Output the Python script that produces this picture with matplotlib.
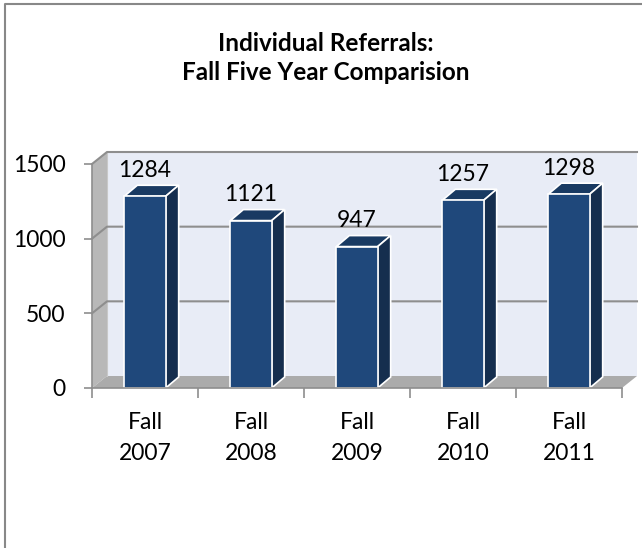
import matplotlib
matplotlib.use("Agg")
import matplotlib.pyplot as plt
from matplotlib.patches import Polygon
from matplotlib.transforms import IdentityTransform
from matplotlib.lines import Line2D

categories = ["Fall\n2007", "Fall\n2008", "Fall\n2009", "Fall\n2010", "Fall\n2011"]
values = [1284, 1121, 947, 1257, 1298]
yticks = [0, 500, 1000, 1500]
title = "Individual Referrals:\nFall Five Year Comparision"

FONT = "Lato"
plt.rcParams['font.family'] = [FONT, 'DejaVu Sans']

W, H, DPI = 642, 548, 100
fig = plt.figure(figsize=(W / DPI, H / DPI), dpi=DPI)
fig.patch.set_facecolor("white")

# axes occupy the front plane of the 3D box
left_px, right_px, zero_px, top_px = 92, 622, 388, 164
ax = fig.add_axes([left_px / W, 1 - zero_px / H, (right_px - left_px) / W, (zero_px - top_px) / H])
ax.set_xlim(0, len(values))
ax.set_ylim(0, 1500)
ax.patch.set_visible(False)

WALL_DX, WALL_DY = 15, 12
BAR_DX, BAR_DY = 13, 11
bar_w = 0.39

def P(x, y, dx=0, dy=0):
    px, py = ax.transData.transform((x, y))
    return (px + dx, py + dy)

def poly(pts, fc, ec="none", lw=0, z=1):
    p = Polygon(pts, closed=True, facecolor=fc, edgecolor=ec, linewidth=lw,
                transform=IdentityTransform(), clip_on=False, zorder=z)
    ax.add_artist(p)

def line(pts, color, lw, z=2):
    xs, ys = zip(*pts)
    l = Line2D(xs, ys, color=color, linewidth=lw, transform=IdentityTransform(),
               clip_on=False, zorder=z)
    ax.add_artist(l)

n = len(values)
ymax = yticks[-1]
# back wall
poly([P(0, 0, WALL_DX, WALL_DY), P(n, 0, WALL_DX, WALL_DY),
      P(n, ymax, WALL_DX, WALL_DY), P(0, ymax, WALL_DX, WALL_DY)], "#E8ECF6", z=1)
# side wall
poly([P(0, 0), P(0, 0, WALL_DX, WALL_DY), P(0, ymax, WALL_DX, WALL_DY), P(0, ymax)], "#B8B8B8", z=1.1)
# floor
poly([P(0, 0), P(n, 0), P(n, 0, WALL_DX, WALL_DY), P(0, 0, WALL_DX, WALL_DY)], "#ABABAB", z=1.2)

grid_c = "#8E8E8E"
for v in yticks[1:]:
    line([P(0, v), P(0, v, WALL_DX, WALL_DY), P(n, v, WALL_DX, WALL_DY)], grid_c, 1.5, z=1.5)
line([P(0, 0, WALL_DX, WALL_DY), P(0, ymax, WALL_DX, WALL_DY)], "#C8C8C8", 0.8, z=1.4)

front_c, side_c, top_c = "#1F487B", "#152E4E", "#193A62"
for i, v in enumerate(values):
    x0, x1 = i + 0.5 - bar_w / 2, i + 0.5 + bar_w / 2
    poly([P(x0, v), P(x1, v), P(x1, v, BAR_DX, BAR_DY), P(x0, v, BAR_DX, BAR_DY)], top_c, "white", 1.2, z=3)
    poly([P(x1, 0), P(x1, 0, BAR_DX, BAR_DY), P(x1, v, BAR_DX, BAR_DY), P(x1, v)], side_c, "white", 1.2, z=3)
    poly([P(x0, 0), P(x1, 0), P(x1, v), P(x0, v)], front_c, "white", 1.2, z=3.1)
    ax.annotate(str(v), xy=(i + 0.5, v), xytext=(0, 18.5), textcoords="offset points",
                ha="center", va="center", fontsize=16.5, color="black", zorder=5)

# axes
for s in ["top", "right"]:
    ax.spines[s].set_visible(False)
for s in ["left", "bottom"]:
    ax.spines[s].set_color("#8E8E8E")
    ax.spines[s].set_linewidth(1.2)
    ax.spines[s].set_zorder(4)
ax.set_yticks(yticks)
ax.set_yticklabels([str(t) for t in yticks])
ax.tick_params(axis="y", direction="out", length=6, width=1.2, color="#8E8E8E", pad=13, labelsize=16.5)
ax.set_xticks(range(n + 1))
ax.set_xticklabels([])
ax.set_xticks([i + 0.5 for i in range(n)], minor=True)
ax.set_xticklabels(categories, minor=True, fontsize=16.5, linespacing=1.6)
ax.tick_params(axis="x", which="major", direction="out", length=7, width=1.2, color="#8E8E8E")
ax.tick_params(axis="x", which="minor", length=0, pad=17)

fig.text(326 / W, 1 - 58 / H, title, ha="center", va="center", fontsize=17.5,
         fontweight="bold", linespacing=1.3)

# chart border (left and top edges visible)
fig.add_artist(Line2D([4.5 / W, 4.5 / W, 1], [0, 1 - 3.5 / H, 1 - 3.5 / H],
                      transform=fig.transFigure, color="#888888", linewidth=1.5))

fig.savefig("out.png", dpi=DPI)
